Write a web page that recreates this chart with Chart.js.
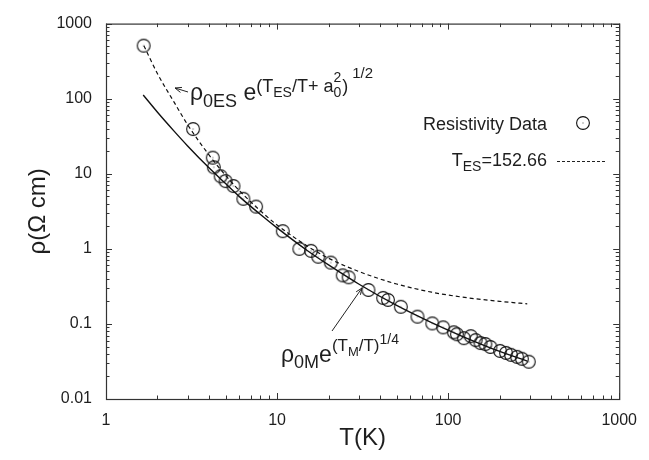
<!DOCTYPE html>
<html><head><meta charset="utf-8">
<script src="https://cdn.jsdelivr.net/npm/chart.js@4/dist/chart.umd.min.js"></script>
<style>html,body{margin:0;padding:0;background:#fff}#wrap{width:649px;height:460px;position:relative}</style>
</head><body><div id="wrap"><canvas id="c" width="649" height="460"></canvas></div>
<script>
// ---- data ----
const X_TICKS = [1, 10, 100, 1000];
const Y_TICKS = [0.01, 0.1, 1, 10, 100, 1000];
const X_LABELS = ["1", "10", "100", "1000"];
const Y_LABELS = ["0.01", "0.1", "1", "10", "100", "1000"];

const T_DATA = [1.66, 3.23, 4.21, 4.27, 4.68, 5.0, 5.56, 6.35, 7.54, 10.8, 13.5, 15.8, 17.4, 20.6, 24.2, 26.2, 34.2, 41.7, 44.5, 52.9, 66.2, 80.8, 93.5, 108, 112.5, 123.5, 135.6, 144.8, 154.7, 165, 176.6, 201, 218, 233, 253, 270, 296];
const RHO_DATA = [508, 39.4, 16.4, 12.2, 9.27, 7.98, 6.87, 4.64, 3.65, 1.72, 1.0, 0.94, 0.785, 0.656, 0.444, 0.418, 0.283, 0.222, 0.209, 0.169, 0.125, 0.1015, 0.090, 0.0774, 0.0729, 0.0646, 0.0687, 0.0609, 0.0556, 0.054, 0.0493, 0.0437, 0.0411, 0.0387, 0.0364, 0.0343, 0.0314];

const T_MOTT = [1.65, 2, 2.5, 3, 4, 5, 6, 8, 10, 15, 20, 30, 50, 80, 120, 200, 290];
const RHO_MOTT = [112, 66, 37, 23.5, 12.0, 7.4, 5.0, 2.86, 1.9, 0.95, 0.61, 0.34, 0.176, 0.104, 0.069, 0.043, 0.032];

const T_ES = [1.665, 2, 2.5, 3, 4, 5, 6, 8, 10, 15, 20, 30, 50, 80, 120, 200, 290];
const RHO_ES = [508, 215, 90, 45, 17.8, 9.5, 6.0, 3.2, 2.08, 1.09, 0.75, 0.5, 0.34, 0.265, 0.228, 0.2, 0.185];

const LEGEND_DATA = "Resistivity Data";
const LEGEND_ES = ["T", "ES", "=152.66"];

// ---- styling ----
const FONT = '"Liberation Sans", Arial, Helvetica, sans-serif';
const INK = '#1e1e1e';

function makeMarker() {
  const c = document.createElement('canvas');
  c.width = 18; c.height = 18;
  const g = c.getContext('2d');
  g.strokeStyle = '#111'; g.lineWidth = 1.1;
  g.beginPath(); g.arc(9, 9, 6.4, 0, Math.PI * 2); g.stroke();
  g.fillStyle = '#444'; g.fillRect(8.5, 8.5, 1, 1);
  return c;
}
const MARKER = makeMarker();

function pts(xs, ys) { return xs.map((x, i) => ({ x: x, y: ys[i] })); }

function drawRich(ctx, x, parts, measureOnly) {
  for (const p of parts) {
    const [txt, size, base, noAdv, gap] = p;
    if (gap) x += gap;
    ctx.font = size + 'px ' + FONT;
    if (!measureOnly) ctx.fillText(txt, x, base);
    const w = ctx.measureText(txt).width;
    if (!noAdv) x += w;
  }
  return x;
}

function arrow(ctx, x1, y1, x2, y2) {
  ctx.beginPath(); ctx.moveTo(x1, y1); ctx.lineTo(x2, y2); ctx.stroke();
  const a = Math.atan2(y2 - y1, x2 - x1), L = 7, w = 0.38;
  ctx.beginPath();
  ctx.moveTo(x2 - L * Math.cos(a - w), y2 - L * Math.sin(a - w));
  ctx.lineTo(x2, y2);
  ctx.lineTo(x2 - L * Math.cos(a + w), y2 - L * Math.sin(a + w));
  ctx.stroke();
}

const framePlugin = {
  id: 'frame',
  afterDraw(chart) {
    const ctx = chart.ctx;
    const xs = chart.scales.x, ys = chart.scales.y;
    const { left, right, top, bottom } = chart.chartArea;
    ctx.save();
    ctx.strokeStyle = '#333'; ctx.lineWidth = 1.2;
    ctx.strokeRect(left + 0.5, top + 0.5, right - left, bottom - top);
    ctx.lineWidth = 1;
    for (let d = 0; d < X_TICKS.length; d++) {
      const base = X_TICKS[d];
      for (let m = 1; m <= 9; m++) {
        const v = base * m;
        if (v > X_TICKS[X_TICKS.length - 1]) break;
        const px = Math.round(xs.getPixelForValue(v)) + 0.5;
        const len = m === 1 ? 6 : 3.5;
        ctx.beginPath();
        ctx.moveTo(px, bottom); ctx.lineTo(px, bottom - len);
        ctx.moveTo(px, top); ctx.lineTo(px, top + len);
        ctx.stroke();
      }
    }
    for (let d = 0; d < Y_TICKS.length; d++) {
      const base = Y_TICKS[d];
      for (let m = 1; m <= 9; m++) {
        const v = base * m;
        if (v > Y_TICKS[Y_TICKS.length - 1] * 1.0001) break;
        const py = Math.round(ys.getPixelForValue(v)) + 0.5;
        const len = m === 1 ? 6 : 3.5;
        ctx.beginPath();
        ctx.moveTo(left, py); ctx.lineTo(left + len, py);
        ctx.moveTo(right, py); ctx.lineTo(right - len, py);
        ctx.stroke();
      }
    }
    // legend
    ctx.fillStyle = INK;
    ctx.textBaseline = 'alphabetic';
    ctx.textAlign = 'right';
    ctx.font = '18px ' + FONT;
    ctx.fillText(LEGEND_DATA, 547, 130);
    ctx.drawImage(MARKER, 583 - 9, 123 - 9);
    ctx.textAlign = 'left';
    const esParts = [[LEGEND_ES[0], 18, 166], [LEGEND_ES[1], 14, 171], [LEGEND_ES[2], 18, 166]];
    const wEnd = drawRich(ctx, 0, esParts, true);
    drawRich(ctx, 547 - wEnd, esParts);
    ctx.save();
    ctx.setLineDash([3, 2]); ctx.strokeStyle = '#222'; ctx.lineWidth = 1.1;
    ctx.beginPath(); ctx.moveTo(557, 161.5); ctx.lineTo(607, 161.5); ctx.stroke();
    ctx.restore();
    // annotations
    drawRich(ctx, 190, [
      ['\u03C1', 23, 100], ['0ES', 18, 107], [' e', 23, 100],
      ['(T', 18, 92], ['ES', 14, 97], ['/T+ a', 18, 92],
      ['0', 14, 97, true], ['2', 14, 82], [')', 18, 92, false, 1], ['1/2', 15, 78, false, 4]
    ]);
    drawRich(ctx, 281, [
      ['\u03C1', 23, 362], ['0M', 18, 368], ['e', 23, 362],
      ['(T', 17, 351], ['M', 13, 356], ['/T)', 17, 351], ['1/4', 14, 344]
    ]);
    ctx.strokeStyle = '#222'; ctx.lineWidth = 1;
    arrow(ctx, 188, 92, 175, 88);
    arrow(ctx, 332, 331, 362, 288);
    ctx.restore();
  }
};

new Chart(document.getElementById('c'), {
  type: 'scatter',
  data: {
    datasets: [
      { label: 'Resistivity Data', data: pts(T_DATA, RHO_DATA), showLine: false,
        pointStyle: MARKER, pointRadius: 8, pointHoverRadius: 8 },
      { label: 'Mott', data: pts(T_MOTT, RHO_MOTT), showLine: true, borderColor: '#111',
        borderWidth: 1.4, pointRadius: 0, cubicInterpolationMode: 'monotone', fill: false },
      { label: 'ES', data: pts(T_ES, RHO_ES), showLine: true, borderColor: '#111',
        borderWidth: 1.2, borderDash: [4, 3], pointRadius: 0, cubicInterpolationMode: 'monotone', fill: false }
    ]
  },
  options: {
    responsive: false, animation: false, devicePixelRatio: 1,
    layout: { autoPadding: false, padding: { top: 16, right: 21, left: 0, bottom: 0 } },
    plugins: { legend: { display: false }, tooltip: { enabled: false } },
    scales: {
      x: {
        type: 'logarithmic', min: 1, max: 1000, position: 'bottom',
        grid: { display: false, drawTicks: false, tickLength: 0 },
        border: { display: false },
        afterBuildTicks: s => { s.ticks = X_TICKS.map(v => ({ value: v })); },
        afterFit: s => { s.height = 61; },
        ticks: { autoSkip: false, maxRotation: 0, padding: 12, color: INK,
          font: { family: FONT, size: 16 },
          callback: (v) => { const i = X_TICKS.indexOf(v); return i >= 0 ? X_LABELS[i] : ''; } },
        title: { display: true, text: 'T(K)', color: INK, font: { family: FONT, size: 24 },
          padding: { top: 0, bottom: 7 } }
      },
      y: {
        type: 'logarithmic', min: 0.01, max: 1000, position: 'left',
        grid: { display: false, drawTicks: false, tickLength: 0 },
        border: { display: false },
        afterBuildTicks: s => { s.ticks = Y_TICKS.map(v => ({ value: v })); },
        afterFit: s => { s.width = 106; },
        ticks: { autoSkip: false, padding: 14, color: INK,
          font: { family: FONT, size: 16 },
          callback: (v) => { const i = Y_TICKS.findIndex(t => Math.abs(t - v) / t < 1e-6); return i >= 0 ? Y_LABELS[i] : ''; } },
        title: { display: true, text: '\u03C1(\u03A9 cm)', color: INK, font: { family: FONT, size: 24 },
          padding: { top: 24, bottom: 0 } }
      }
    }
  },
  plugins: [framePlugin]
});
</script>
</body></html>
